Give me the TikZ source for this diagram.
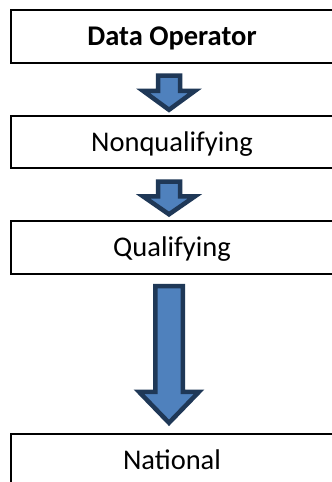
\documentclass[tikz,border=0pt]{standalone}
\usepackage{fontspec}
\setmainfont{Carlito}
\usetikzlibrary{calc}
\definecolor{arrfill}{HTML}{4F81BD}
\definecolor{arrline}{HTML}{1F3857}
\tikzset{
  box/.style={minimum width=360pt, minimum height=52pt,
    text height=18pt, text depth=0pt, inner sep=0pt, font=\fontsize{28.5}{31}\selectfont},
  boxline/.style={draw=black, line width=2pt, line join=miter},
  blockarrow/.style={draw=arrline, fill=arrfill, line width=4.5pt, line join=miter, miter limit=10}
}
\newcommand\shifttxt[1]{\hspace*{-38pt}#1}
\newcommand\boxedge[1]{\draw[boxline] (#1.north east) -- (#1.north west) -- (#1.south west) -- (#1.south east);}
% #1 from, #2 to, #3 top gap, #4 tip gap, #5 shaft half, #6 head half, #7 head length
\newcommand\blockarr[7]{%
  \draw[blockarrow] let \p1=($(#1.south)+(-22pt,-#3)$), \p2=($(#2.north)+(-22pt,#4)$) in
    (\x1-#5,\y1) -- (\x1+#5,\y1) -- (\x1+#5,\y2+#7) -- (\x1+#6,\y2+#7) -- (\x1,\y2)
    -- (\x1-#6,\y2+#7) -- (\x1-#5,\y2+#7) -- cycle;
}
\begin{document}
\begin{tikzpicture}[x=1pt,y=-1pt]
\useasboundingbox (0,0) rectangle (332,482);
\clip (0,0) rectangle (332,482);
\fill[white] (0,0) rectangle (332,482);
\node[box, font=\fontsize{28.5}{31}\selectfont\bfseries] (b1) at (191,36.3) {\shifttxt{Data Operator}};
\node[box] (b2) at (191,142) {\shifttxt{Nonqualifying}};
\node[box] (b3) at (191,247.5) {\shifttxt{Qualifying}};
\node[box] (b4) at (191,460) {\shifttxt{National}};
\boxedge{b1}
\boxedge{b2}
\boxedge{b3}
\boxedge{b4}
\blockarr{b1}{b2}{13pt}{6pt}{11pt}{26pt}{19pt}
\blockarr{b2}{b3}{13.5pt}{7pt}{11pt}{26pt}{18pt}
\blockarr{b3}{b4}{12.5pt}{11pt}{13.75pt}{30pt}{31pt}
\end{tikzpicture}
\end{document}
